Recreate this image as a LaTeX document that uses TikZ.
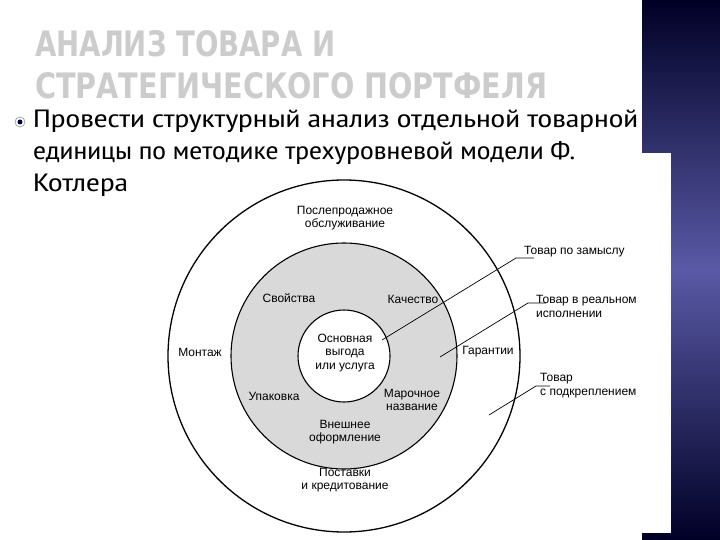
\documentclass[tikz,border=0pt]{standalone}
\usepackage{fontspec}
\setmainfont{Liberation Sans}
\newfontfamily\bodyfont{PT Sans Narrow}
\newfontfamily\titlefont{DejaVu Sans}
\usetikzlibrary{calc}
\begin{document}
\begin{tikzpicture}[x=1pt,y=-1pt,
  lbl/.style={font=\fontsize{12}{13.5}\selectfont, align=center, inner sep=0pt},
  rlbl/.style={font=\fontsize{12}{14}\selectfont, align=left, anchor=west, inner sep=0pt},
  lead/.style={draw=black, line width=0.7pt},
  body/.style={font=\bodyfont\fontsize{25}{32}\selectfont, anchor=west, inner sep=0pt, align=left}]
\useasboundingbox (0,0) rectangle (720,540);
\fill[white] (0,0) rectangle (720,540);
\shade[top color=black!85!blue, bottom color=black!85!blue, middle color=blue!30!gray] (642,0) rectangle (720,540);
\fill[white] (642,153) rectangle (671,533);
% title
\node[anchor=west, inner sep=0pt, text=gray!40] (t1) at (35,44) {\resizebox{300pt}{26pt}{\titlefont\bfseries АНАЛИЗ ТОВАРА И}};
\node[anchor=west, inner sep=0pt, text=gray!40] (t2) at (35,86) {\resizebox{512pt}{26pt}{\titlefont\bfseries СТРАТЕГИЧЕСКОГО ПОРТФЕЛЯ}};
% bullet
\draw[gray!70, line width=0.8pt] (20,122) circle (5);
\fill[black!70!blue] (20,122) circle (2.5);
\node[body] (b1) at (33,121) {\resizebox{605pt}{\height}{Провести структурный анализ отдельной товарной}};
\node[body] (b2) at (33,153) {\resizebox{542pt}{\height}{единицы по методике трехуровневой модели Ф.}};
\node[body] (b3) at (33,185) {\resizebox{95pt}{\height}{Котлера}};
% circles
\coordinate (c) at (344,356);
\draw[line width=1.3pt] (c) circle (176);
\draw[line width=1.1pt, fill=black!15] (c) circle (113);
\draw[line width=1.1pt, fill=white] (c) circle (46);
\node[lbl] (n1) at (345,218) {Послепродажное\\обслуживание};
\node[lbl] (n2) at (289,298) {Свойства};
\node[lbl] (n3) at (413,299) {Качество};
\node[lbl] (n4) at (200,352) {Монтаж};
\node[lbl] (n5) at (488,352) {Гарантии};
\node[lbl] (n6) at (345,353) {Основная\\выгода\\или услуга};
\node[lbl] (n7) at (274,396) {Упаковка};
\node[lbl] (n8) at (412,400) {Марочное\\название};
\node[lbl] (n9) at (345,432) {Внешнее\\оформление};
\node[lbl] (n10) at (345,480) {Поставки\\и кредитование};
% right labels
\node[rlbl] (r1) at (524,252) {Товар по замыслу};
\node[rlbl] (r2) at (536,306) {Товар в реальном\\исполнении};
\node[rlbl] (r3) at (540,386) {Товар\\с подкреплением};
\coordinate (p1) at (382,340);
\coordinate (q1) at (516,258);
\coordinate (e1) at (534,258);
\coordinate (p2) at (440,357);
\coordinate (q2) at (528,303);
\coordinate (e2) at (546,303);
\coordinate (p3) at (489,415);
\coordinate (q3) at (536,386);
\coordinate (e3) at (550,386);
\draw[lead] (p1) -- (q1) -- (e1);
\draw[lead] (p2) -- (q2) -- (e2);
\draw[lead] (p3) -- (q3) -- (e3);
\end{tikzpicture}
\end{document}
